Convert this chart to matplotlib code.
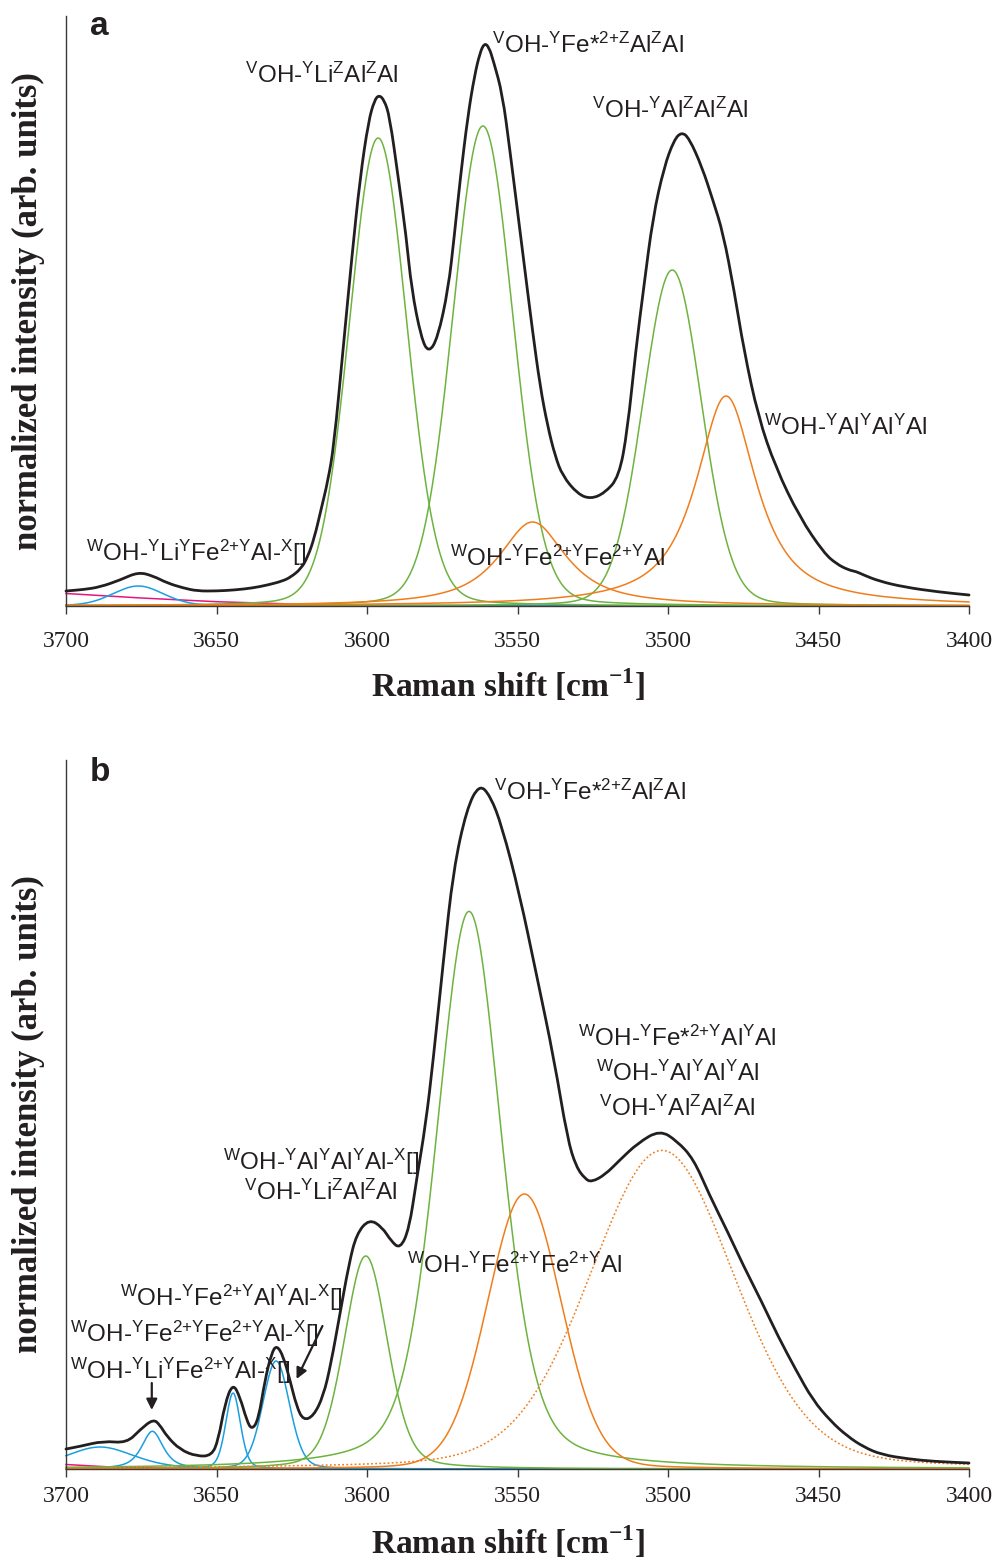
import numpy as np
import matplotlib
matplotlib.use("Agg")
import matplotlib.pyplot as plt
from matplotlib.path import Path
from matplotlib.patches import PathPatch

plt.rcParams["font.family"] = ["Liberation Sans", "DejaVu Sans"]
plt.rcParams["mathtext.fontset"] = "custom"
plt.rcParams["mathtext.rm"] = "Liberation Sans"
plt.rcParams["mathtext.it"] = "Liberation Sans:italic"
plt.rcParams["mathtext.bf"] = "Liberation Sans:bold"

# ---------------- panel a ----------------
# measured spectrum (Raman shift, intensity in arb. units)
a_shift = [3700, 3694, 3688.7, 3682, 3676, 3671, 3666.4, 3661, 3656.4, 3650,
           3644, 3638, 3633, 3628, 3625.3, 3622, 3619.7, 3617.5, 3615.3, 3613,
           3611, 3608, 3605, 3602.3, 3599.5, 3597.5, 3596, 3594.3, 3592.5, 3589.6,
           3587, 3585.2, 3582, 3579.5, 3576.5, 3573, 3571, 3569, 3566.5, 3564.3,
           3562.5, 3561, 3559.5, 3558, 3555, 3552.5, 3550, 3547.5, 3545, 3542.5,
           3540, 3537.5, 3535, 3530, 3525.7, 3521, 3516.3, 3513.5, 3510.7, 3508,
           3505, 3501.3, 3498, 3495.5, 3493, 3488.7, 3485, 3481.7, 3478, 3474.8,
           3470, 3464.3, 3456.3, 3448.2, 3444, 3440, 3437.5, 3435, 3430, 3421.7,
           3410, 3400]
a_int = [15, 16.5, 19, 26, 34, 30, 23, 18, 15, 15,
         16, 18, 21, 25, 29, 37, 49, 68, 96, 125,
         160, 255, 350, 428, 485, 506, 511, 506, 490, 428,
         370, 317, 268, 253, 268, 317, 370, 428, 490, 530,
         553, 563, 559, 545, 512, 455, 395, 335, 275, 220,
         180, 150, 130, 112, 107, 113, 129, 175, 256, 320,
         389, 439, 466, 474, 468, 439, 405, 373, 315, 256,
         189, 139, 89, 53, 42, 36, 34.5, 31, 25, 19,
         14, 11]

# fitted bands: position, height, FWHM, Lorentzian fraction
a_green_pos = [3596.3, 3561.5, 3498.6]
a_green_h = [468, 480, 336]
a_green_w = [22.5, 23.5, 23]
a_green_eta = [0.1, 0.1, 0.1]

a_orange_pos = [3545, 3480.7]
a_orange_h = [84, 210]
a_orange_w = [27, 24]
a_orange_eta = [0.9, 0.9]

a_blue_pos = [3676]
a_blue_h = [20]
a_blue_w = [20]
a_blue_eta = [0.2]

a_pink_x = [3700, 3675, 3650, 3625, 3600, 3550, 3400]
a_pink_y = [12.5, 8, 4.3, 2, 0.8, 0.3, 0]

# ---------------- panel b ----------------
b_shift = [3700, 3695.3, 3687.6, 3679.8, 3675.4, 3671, 3668.8, 3666.5, 3662.1, 3656.6,
           3651.6, 3649.4, 3647.2, 3644.6, 3642.2, 3640, 3638.3, 3636.1, 3633.9, 3631.7,
           3630, 3627.8, 3625.6, 3623.4, 3621.2, 3617.8, 3614.5, 3612, 3609, 3606,
           3603.5, 3599.3, 3595, 3592, 3589, 3586, 3583.5, 3580.5, 3578, 3574.6,
           3571.3, 3566.9, 3562.7, 3559, 3555.2, 3549.4, 3543.6, 3537.8, 3533.4, 3530.5,
           3527.5, 3525.4, 3521, 3516, 3510, 3502.7, 3497, 3491.5, 3486.4, 3480,
           3474.9, 3469, 3463.5, 3457.5, 3451.9, 3446, 3440.5, 3435, 3429, 3420,
           3411.8, 3400]
b_int = [20, 22.7, 28, 26, 39.3, 50, 44, 32.7, 19.3, 12.7,
         13.3, 29, 65.3, 86, 72, 49, 39, 49, 89, 116,
         124, 112.7, 89, 62.7, 48.7, 52.7, 73, 105, 155, 205,
         235, 250, 242, 228, 220, 240, 290, 345, 409, 509,
         599, 660, 685, 673, 643, 576, 493, 409, 330, 302,
         290, 287, 294, 309, 326, 339, 328, 310, 275, 236,
         203, 168, 133, 99, 69, 48, 33, 22, 14.3, 10,
         7.6, 6]

b_blue_pos = [3688.7, 3671.3, 3644.5, 3630.2]
b_blue_h = [22, 37.7, 76, 108]
b_blue_w = [27, 8.5, 5.8, 10.5]
b_blue_eta = [0.4, 0.7, 0.3, 0.2]

b_green_pos = [3600.4, 3566.1]
b_green_h = [213, 557.6]
b_green_w = [17, 25.5]
b_green_eta = [0.25, 0.35]

b_orange_pos = [3547.7]
b_orange_h = [275]
b_orange_w = [29]
b_orange_eta = [0.1]

b_dot_pos = [3502]
b_dot_h = [318.6]
b_dot_w = [57]
b_dot_eta = [0.2]

b_pink_x = [3700, 3685, 3665, 3640, 3400]
b_pink_y = [4.5, 2, 0.8, 0.3, 0]

ticks = [3700, 3650, 3600, 3550, 3500, 3450, 3400]

BLACK = "#231f20"
GREEN = "#6db33f"
ORANGE = "#f07d1c"
BLUE = "#1a9fe0"
PINK = "#e5177e"


def pvoigt(x, c, h, w, eta):
    g = np.exp(-4 * np.log(2) * ((x - c) / w) ** 2)
    l = 1 / (1 + 4 * ((x - c) / w) ** 2)
    return h * (eta * l + (1 - eta) * g)


def s(t):
    # superscript site label
    return r"$^{\mathregular{" + t + "}}$"


def spectrum(ax, x, y):
    # draw the read points as a smooth quadratic curve through them
    p = np.column_stack([x, y]).astype(float)
    mids = (p[:-1] + p[1:]) / 2
    verts = [p[0], mids[0]]
    codes = [Path.MOVETO, Path.LINETO]
    for i in range(1, len(p) - 1):
        verts += [p[i], mids[i]]
        codes += [Path.CURVE3, Path.CURVE3]
    verts.append(p[-1])
    codes.append(Path.LINETO)
    ax.add_patch(PathPatch(Path(verts, codes), fill=False, edgecolor=BLACK, lw=2.0,
                           clip_on=False, joinstyle="round", capstyle="round", zorder=5))


xs = np.linspace(3400, 3700, 1201)


def bands(ax, pos, h, w, eta, color, ls="-"):
    for c, hh, ww, ee in zip(pos, h, w, eta):
        ax.plot(xs, pvoigt(xs, c, hh, ww, ee), color=color, lw=1.1, ls=ls, clip_on=False)


def style(ax, top, pad, labelpad):
    ax.set_xlim(3700, 3400)
    ax.set_ylim(0, top)
    ax.set_xticks(ticks)
    ax.set_xticklabels([str(t) for t in ticks], fontfamily="Liberation Serif", fontsize=17)
    ax.set_yticks([])
    for sp in ["top", "right"]:
        ax.spines[sp].set_visible(False)
    for sp in ["left", "bottom"]:
        ax.spines[sp].set_color("#3a3a3a")
        ax.spines[sp].set_linewidth(1.0)
    ax.tick_params(axis="x", direction="out", length=6, width=1, pad=pad, colors="#3a3a3a",
                   labelcolor="#231f20")
    ax.set_xlabel(r"Raman shift [cm$^{\mathregular{-1}}$]", fontfamily="Liberation Serif",
                  fontweight="bold", fontsize=24, labelpad=labelpad, color=BLACK)
    ax.xaxis.label.set_x(0.49)
    ax.set_ylabel("normalized intensity (arb. units)", fontfamily="Liberation Serif",
                  fontweight="bold", fontsize=25, color=BLACK)
    ax.yaxis.set_label_coords(-0.023, 0.5)


fig = plt.figure(figsize=(9.92, 15.57), dpi=100)
W = 992
H = 1557
ax_a = fig.add_axes([66 / W, (H - 606) / H, 903 / W, 590 / H])
ax_b = fig.add_axes([66 / W, (H - 1469) / H, 903 / W, 709 / H])

# ---- panel a ----
ax_a.plot(a_pink_x, a_pink_y, color=PINK, lw=1.1, clip_on=False)
bands(ax_a, a_blue_pos, a_blue_h, a_blue_w, a_blue_eta, BLUE)
bands(ax_a, a_green_pos, a_green_h, a_green_w, a_green_eta, GREEN)
bands(ax_a, a_orange_pos, a_orange_h, a_orange_w, a_orange_eta, ORANGE)
spectrum(ax_a, a_shift, a_int)
style(ax_a, 590, 12, 11)

fs = 17.5
ax_a.text(3692, 571, "a", fontsize=24, fontweight="bold", color=BLACK)
ax_a.text(3640.5, 523, s("V") + "OH-" + s("Y") + "Li" + s("Z") + "Al" + s("Z") + "Al",
          fontsize=fs, color=BLACK)
ax_a.text(3558.6, 553, s("V") + "OH-" + s("Y") + "Fe*" + s("2{+}Z") + "Al" + s("Z") + "Al",
          fontsize=fs, color=BLACK)
ax_a.text(3525.1, 488, s("V") + "OH-" + s("Y") + "Al" + s("Z") + "Al" + s("Z") + "Al",
          fontsize=fs, color=BLACK)
ax_a.text(3468, 171, s("W") + "OH-" + s("Y") + "Al" + s("Y") + "Al" + s("Y") + "Al",
          fontsize=fs, color=BLACK)
ax_a.text(3572.4, 40, s("W") + "OH-" + s("Y") + "Fe" + s("2{+}Y") + "Fe" + s("2{+}Y") + "Al",
          fontsize=fs, color=BLACK)
ax_a.text(3693.4, 45, s("W") + "OH-" + s("Y") + "Li" + s("Y") + "Fe" + s("2{+}Y") + "Al-" + s("X") + "[]",
          fontsize=fs, color=BLACK)

# ---- panel b ----
ax_b.plot(b_pink_x, b_pink_y, color=PINK, lw=1.1, clip_on=False)
bands(ax_b, b_blue_pos, b_blue_h, b_blue_w, b_blue_eta, BLUE)
bands(ax_b, b_green_pos, b_green_h, b_green_w, b_green_eta, GREEN)
bands(ax_b, b_orange_pos, b_orange_h, b_orange_w, b_orange_eta, ORANGE)
bands(ax_b, b_dot_pos, b_dot_h, b_dot_w, b_dot_eta, ORANGE, ls=(0, (1.2, 1.5)))
spectrum(ax_b, b_shift, b_int)
style(ax_b, 709, 6.5, 12)

ax_b.text(3692, 688, "b", fontsize=24, fontweight="bold", color=BLACK)
ax_b.text(3557.7, 669, s("V") + "OH-" + s("Y") + "Fe*" + s("2{+}Z") + "Al" + s("Z") + "Al",
          fontsize=fs, color=BLACK)
ax_b.text(3497, 423, s("W") + "OH-" + s("Y") + "Fe*" + s("2{+}Y") + "Al" + s("Y") + "Al",
          fontsize=fs, color=BLACK, ha="center")
ax_b.text(3497, 388, s("W") + "OH-" + s("Y") + "Al" + s("Y") + "Al" + s("Y") + "Al",
          fontsize=fs, color=BLACK, ha="center")
ax_b.text(3497, 353, s("V") + "OH-" + s("Y") + "Al" + s("Z") + "Al" + s("Z") + "Al",
          fontsize=fs, color=BLACK, ha="center")
ax_b.text(3615.3, 299, s("W") + "OH-" + s("Y") + "Al" + s("Y") + "Al" + s("Y") + "Al-" + s("X") + "[]",
          fontsize=fs, color=BLACK, ha="center")
ax_b.text(3615.3, 269, s("V") + "OH-" + s("Y") + "Li" + s("Z") + "Al" + s("Z") + "Al",
          fontsize=fs, color=BLACK, ha="center")
ax_b.text(3586.6, 196, s("W") + "OH-" + s("Y") + "Fe" + s("2{+}Y") + "Fe" + s("2{+}Y") + "Al",
          fontsize=fs, color=BLACK)
ax_b.text(3682, 163, s("W") + "OH-" + s("Y") + "Fe" + s("2{+}Y") + "Al" + s("Y") + "Al-" + s("X") + "[]",
          fontsize=fs, color=BLACK)
ax_b.text(3698.7, 127, s("W") + "OH-" + s("Y") + "Fe" + s("2{+}Y") + "Fe" + s("2{+}Y") + "Al-" + s("X") + "[]",
          fontsize=fs, color=BLACK)
ax_b.text(3698.7, 90, s("W") + "OH-" + s("Y") + "Li" + s("Y") + "Fe" + s("2{+}Y") + "Al-" + s("X") + "[]",
          fontsize=fs, color=BLACK)

arrow = dict(arrowstyle="-|>", color=BLACK, lw=1.6, mutation_scale=16, shrinkA=0, shrinkB=0)
ax_b.annotate("", xy=(3671.5, 59), xytext=(3671.5, 86), arrowprops=arrow)
ax_b.annotate("", xy=(3623.4, 90), xytext=(3614.8, 143), arrowprops=arrow)

fig.savefig("out.png", dpi=100)
